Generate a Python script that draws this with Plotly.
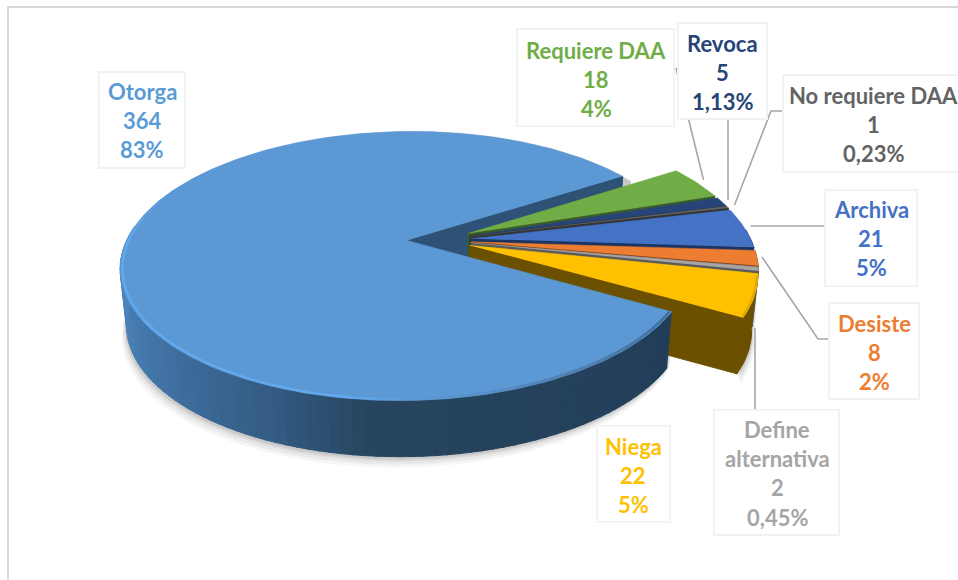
import numpy as np
import plotly.graph_objects as go

# ---- data ----
categories = ["Requiere DAA", "Revoca", "No requiere DAA", "Archiva", "Desiste", "Define alternativa", "Niega", "Otorga"]
values = [18, 5, 1, 21, 8, 2, 22, 364]
percent_labels = ["4%", "1,13%", "0,23%", "5%", "2%", "0,45%", "5%", "83%"]
top_colors = ["#70ad47", "#264478", "#636363", "#4472c4", "#ed7d31", "#a5a5a5", "#ffc000", "#5b98d4"]
wall_colors = ["#3c5e26", "#12223c", "#333333", "#1c3461", "#7d4117", "#5a5a5a", "#6b5000", "#2e5275"]
label_lines = [
    ["Requiere DAA"], ["Revoca"], ["No requiere DAA"], ["Archiva"], ["Desiste"],
    ["Define", "alternativa"], ["Niega"], ["Otorga"],
]
# label box (x0, y0, x1, y1), centre x, first-line y
label_boxes = [
    (517, 29, 674, 126), (678, 23, 767, 119), (783, 75, 975, 172), (825, 190, 917, 286),
    (829, 303, 919, 399), (714, 410, 839, 535), (597, 426, 670, 522), (99, 72, 185, 168),
]
label_cx = [596, 722, 873, 871, 874, 777, 633, 142]
label_y0 = [50, 43, 95, 209, 323, 429, 446, 91]
leaders = [
    [(676, 68), (703.5, 180)],
    [(728, 119), (728, 200)],
    [(783, 111), (771, 111), (734.5, 205)],
    [(825, 226), (750.5, 226)],
    [(829, 339), (818, 339), (762, 257)],
    [(755, 410), (755, 328)],
]

# ---- perspective pie geometry ----
CX, CY, R, K, PERSP, PULL, DEPTH = 439.0, 240.0, 280.0, 0.463, 0.19, 0.115, 56.0
START = -33.0
BOTTOM_SCALE = 0.98


def proj(u, v):
    f = 1.0 / (1.0 - PERSP * v)
    return CX + R * u * f, CY + R * K * v * f


def pt(t, mid, r=1.0):
    a, m = np.radians(t), np.radians(mid)
    return proj(r * np.cos(a) + PULL * np.cos(m), r * np.sin(a) + PULL * np.sin(m))


def low_x(x):
    return CX + (x - CX) * BOTTOM_SCALE


def hexmix(c1, c2, w):
    a = [int(c1[i:i + 2], 16) for i in (1, 3, 5)]
    b = [int(c2[i:i + 2], 16) for i in (1, 3, 5)]
    return "#%02x%02x%02x" % tuple(int(round(p + (q - p) * w)) for p, q in zip(a, b))


fig = go.Figure()


def poly(xs, ys, color, line=1.0):
    fig.add_trace(go.Scatter(x=list(xs), y=list(ys), mode="lines", fill="toself", fillcolor=color,
                             line=dict(color=color, width=line), hoverinfo="skip", showlegend=False))


def stroke(xs, ys, color, width):
    fig.add_trace(go.Scatter(x=list(xs), y=list(ys), mode="lines", line=dict(color=color, width=width),
                             hoverinfo="skip", showlegend=False))


total = sum(values)
edges = START + np.cumsum([0] + values) * 360.0 / total
mids = (edges[:-1] + edges[1:]) / 2
otorga = len(values) - 1
o0, o1, om = edges[otorga], edges[otorga + 1], mids[otorga]


def rim(t0, t1, mid, r=1.0, n=None):
    n = n or max(3, int(abs(t1 - t0)) + 2)
    pts = [pt(t, mid, r) for t in np.linspace(t0, t1, n)]
    return [p[0] for p in pts], [p[1] for p in pts]


def wall(t0, t1, mid, color):
    xs, ys = rim(t0, t1, mid)
    poly(xs + [low_x(x) for x in xs[::-1]], ys + [y + DEPTH for y in ys[::-1]], color)


# soft shadow below the front rim
for grow, alpha in [(11, 0.035), (8, 0.05), (5, 0.06), (3, 0.08)]:
    xs, ys = rim(o0 - 2, o1 + 3, om)
    poly([low_x(x) - 0.45 * grow for x in xs] + xs[::-1],
         [y + DEPTH + grow for y in ys] + [y for y in ys[::-1]],
         "rgba(0,0,0,%s)" % alpha, line=0)
    xs, ys = rim(edges[6], edges[7], mids[6])
    poly([low_x(x) + 0.3 * grow for x in xs] + xs[::-1],
         [y + DEPTH + grow for y in ys] + [y for y in ys[::-1]],
         "rgba(0,0,0,%s)" % alpha, line=0)

# back cut face of the large slice
ax, ay = proj(PULL * np.cos(np.radians(om)), PULL * np.sin(np.radians(om)))
ex, ey = pt(o1, om)
poly([ax, ex, low_x(ex), low_x(ax)], [ay, ey, ey + DEPTH, ay + DEPTH], wall_colors[otorga])

# small slices, back to front
for i in range(otorga):
    t0, t1, m = edges[i], edges[i + 1], mids[i]
    cx_, cy_ = proj(PULL * np.cos(np.radians(m)), PULL * np.sin(np.radians(m)))
    rx, ry = pt(t1, m)
    poly([cx_, rx, low_x(rx), low_x(cx_)], [cy_, ry, ry + DEPTH, cy_ + DEPTH], wall_colors[i])
    if t1 > -4:
        wall(max(t0, -4), t1, m, wall_colors[i])
    xs, ys = rim(t0, t1, m)
    poly([cx_] + xs, [cy_] + ys, top_colors[i], line=0.5)

# yellow slice: soft dark edge along its rim
xs, ys = rim(edges[6] + 1, edges[7] - 0.5, mids[6], r=0.995)
stroke(xs, ys, "#d9a50a", 1.5)

# outer wall of the large slice, shaded from left to right
shade_t = [o0, 95.0, 112.0, 135.0, 160.0, 186.0]
shade_c = ["#223d59", "#27455f", "#345b83", "#3f6f9f", "#4a80b6", "#4f8ac5"]
tt = np.arange(o0, 186.0, 2.0)
for a, b in zip(tt[:-1], tt[1:]):
    w = (a + b) / 2
    j = min(np.searchsorted(shade_t, w), len(shade_t) - 1)
    c = hexmix(shade_c[j - 1], shade_c[j], (w - shade_t[j - 1]) / (shade_t[j] - shade_t[j - 1]))
    wall(a, b + 0.3, om, c)

# top of the large slice
xs, ys = rim(o0, o1, om, n=300)
poly([ax] + xs, [ay] + ys, top_colors[otorga], line=0.5)

# bevel along the front rim
bev = np.arange(o0, 205.0, 4.0)
for a, b in zip(bev[:-1], bev[1:]):
    w = (a + b) / 2
    if w < 60:
        c = hexmix("#3f6f9f", "#507fb0", (w - o0) / (60 - o0))
    elif w < 85:
        c = hexmix("#507fb0", "#5b98d4", (w - 60) / 25)
    elif w < 100:
        c = hexmix("#5b98d4", "#62a8ec", (w - 85) / 15)
    elif w < 180:
        c = "#62a8ec"
    else:
        c = hexmix("#62a8ec", "#5b98d4", (w - 180) / 25)
    xs, ys = rim(a, b + 0.5, om, r=0.993, n=5)
    stroke(xs, ys, c, 2.5)

# leader lines
for seg in leaders:
    stroke([p[0] for p in seg], [p[1] for p in seg], "#a6a6a6", 1.6)

# labels
shapes = [dict(type="rect", x0=8, x1=990, y0=7, y1=600, xref="x", yref="y",
               line=dict(color="#d9d9d9", width=2), fillcolor="rgba(0,0,0,0)", layer="below")]
annotations = []
LINE_STEP = 29.4
label_text_colors = ["#70ad47", "#264478", "#636363", "#4472c4", "#ed7d31", "#a5a5a5", "#ffc000", "#5b9bd5"]
for i, cat in enumerate(categories):
    x0, y0, x1, y1 = label_boxes[i]
    shapes.append(dict(type="rect", x0=x0, x1=x1, y0=y0, y1=y1, xref="x", yref="y", layer="above",
                       line=dict(color="#f2f2f2", width=2), fillcolor="white"))
    lines = label_lines[i] + [str(values[i]), percent_labels[i]]
    for k, text in enumerate(lines):
        annotations.append(dict(x=label_cx[i], y=label_y0[i] + k * LINE_STEP, text="<b>%s</b>" % text,
                                showarrow=False, xanchor="center", yanchor="middle", xref="x", yref="y",
                                font=dict(family="Lato", size=22, color=label_text_colors[i])))

fig.update_layout(
    width=958, height=580, margin=dict(l=0, r=0, t=0, b=0), showlegend=False,
    paper_bgcolor="white", plot_bgcolor="white", shapes=shapes, annotations=annotations,
    xaxis=dict(range=[0, 958], visible=False, fixedrange=True),
    yaxis=dict(range=[580, 0], visible=False, fixedrange=True),
)
fig.write_html("out.html", config=dict(displayModeBar=False),
               post_script="document.body.style.margin='0';document.documentElement.style.overflow='hidden';")
